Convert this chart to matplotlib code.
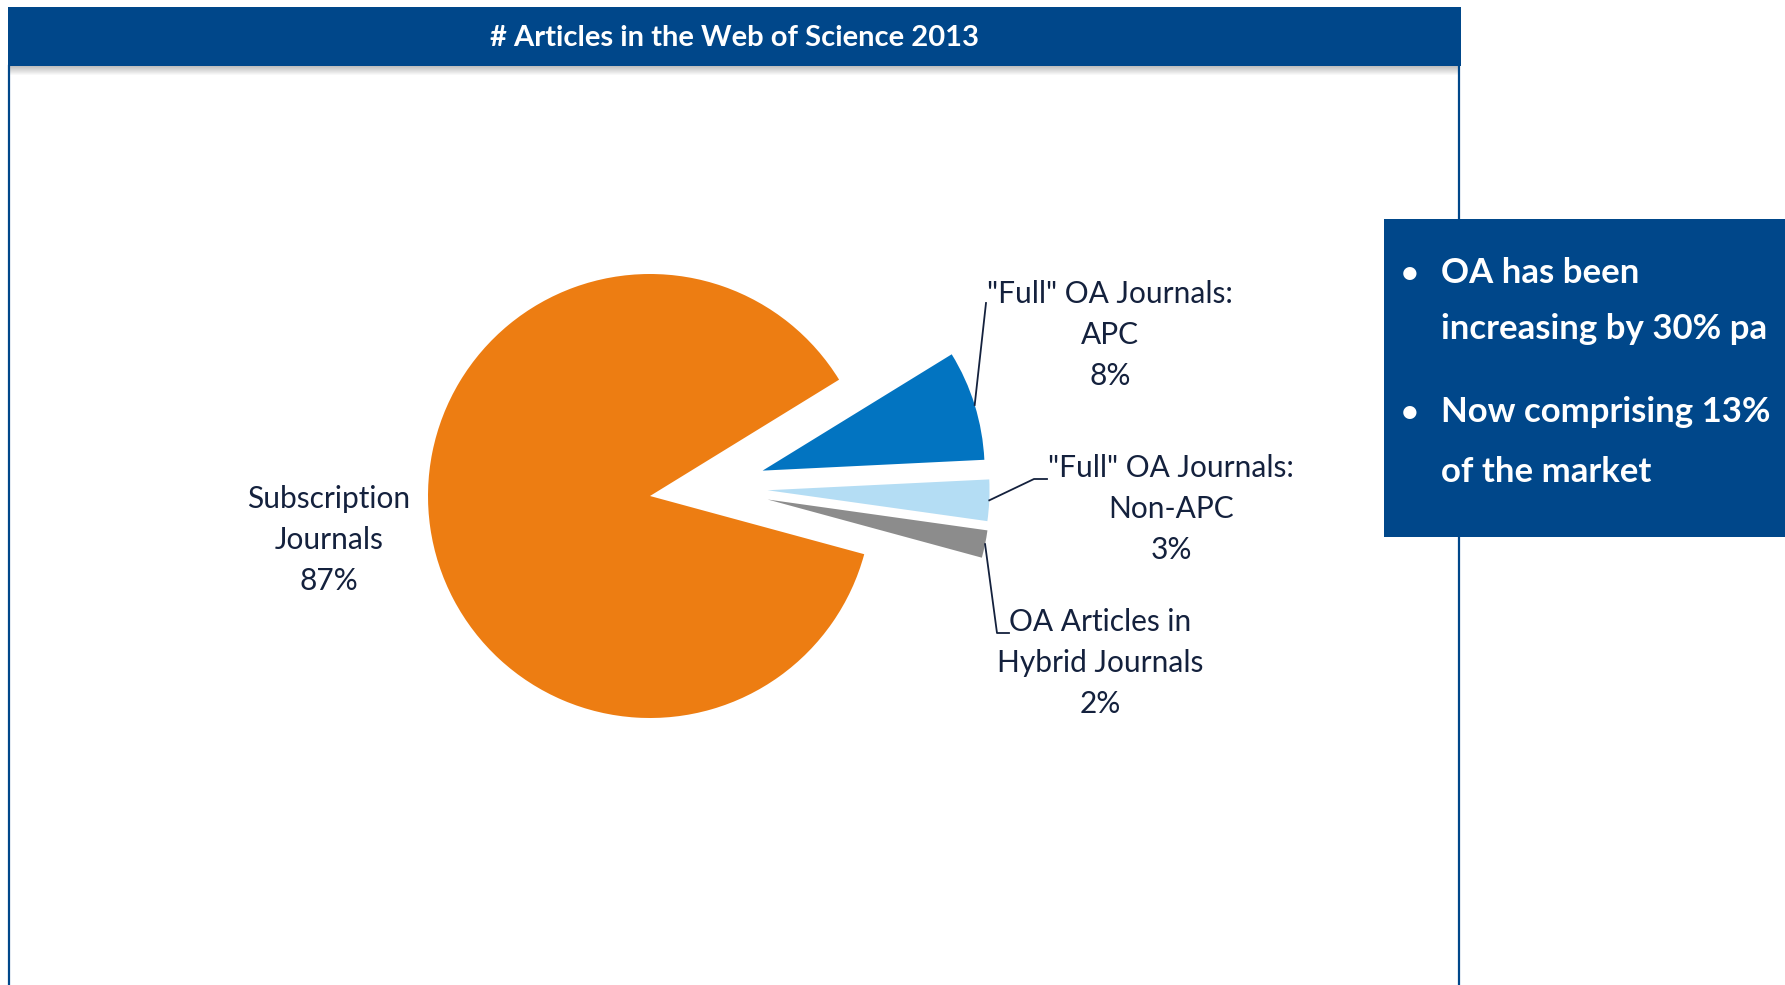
import matplotlib
matplotlib.use('Agg')
import matplotlib.pyplot as plt
from matplotlib.patches import Rectangle
import numpy as np

plt.rcParams['font.family'] = ['Lato', 'DejaVu Sans']

# slices, counter-clockwise from the start angle
labels = ['Subscription\nJournals', 'OA Articles in\nHybrid Journals',
          '"Full" OA Journals:\nNon-APC', '"Full" OA Journals:\nAPC']
shares = [87, 2, 3, 8]
colors = ['#ED7D12', '#8C8C8C', '#B4DDF4', '#0274C1']
explode = [0, 0.53, 0.53, 0.52]

title = '# Articles in the Web of Science 2013'
notes = [['OA has been', 'increasing by 30% pa'], ['Now comprising 13%', 'of the market']]

NAVY = '#00478A'
TXT = '#14213D'

W, H = 1785, 985
fig = plt.figure(figsize=(W / 100, H / 100), dpi=100)
ax = fig.add_axes([0, 0, 1, 1])

# pie in pixel units
cx, cy, R = 650, 489, 222
wedges, _ = ax.pie(shares, colors=colors, startangle=31.6, radius=R, center=(cx, cy),
                   wedgeprops=dict(linewidth=0), frame=True)
ax.set_xlim(0, W)
ax.set_ylim(0, H)
ax.set_aspect('auto')
ax.axis('off')

# pull the OA slices out, half way between own bisector and the OA group bisector
oa = wedges[1:]
grp_mid = (oa[0].theta1 + oa[-1].theta2) / 2
for w, d in zip(wedges, explode):
    if d == 0:
        continue
    mid = (w.theta1 + w.theta2) / 2
    a = np.deg2rad((mid + grp_mid) / 2)
    w.set_center((cx + d * R * np.cos(a), cy + d * R * np.sin(a)))


def arc_mid(w):
    a = np.deg2rad((w.theta1 + w.theta2) / 2)
    c = w.center
    return c[0] + w.r * np.cos(a), c[1] + w.r * np.sin(a)


lab_pos = [(329, 445), (1100, 322), (1171, 476), (1110, 650)]
for lab, s, p in zip(labels, shares, lab_pos):
    ax.text(p[0], p[1], f'{lab}\n{s}%', ha='center', va='center', ma='center',
            fontsize=21.5, color=TXT, linespacing=1.55)

# leader lines
leads = {3: [(986, 682)], 2: [(1034, 506), (1047, 506)], 1: [(997, 352), (1009, 352)]}
for i, pts in leads.items():
    x0, y0 = arc_mid(wedges[i])
    xs = [x0] + [q[0] for q in pts]
    ys = [y0] + [q[1] for q in pts]
    ax.plot(xs, ys, color=TXT, lw=1.3)

# frame + title bar
ax.plot([9, 9], [0, H - 66], color=NAVY, lw=1.6)
ax.plot([1459, 1459], [0, H - 66], color=NAVY, lw=1.6)
for k in range(9):
    ax.add_patch(Rectangle((9, H - 67 - k), 1450, 1, facecolor='#808080',
                           alpha=0.5 * (1 - k / 9), lw=0))
ax.add_patch(Rectangle((8, H - 66), 1453, 59, facecolor=NAVY, lw=0))
ax.text(734, H - 38, title, ha='center', va='center', color='white',
        fontsize=21, fontweight='bold')

# side box
ax.add_patch(Rectangle((1384, H - 537), W - 1384, 318, facecolor=NAVY, lw=0, zorder=5))
base = [[H - 283, H - 339], [H - 422, H - 482]]
for lines, ys in zip(notes, base):
    ax.text(1410, ys[0], '\u2022', ha='center', va='baseline', color='white',
            fontsize=22, fontweight='bold', zorder=6)
    for t, y in zip(lines, ys):
        ax.text(1441, y, t, ha='left', va='baseline', color='white',
                fontsize=25, fontweight='bold', zorder=6)

fig.savefig('out.png', dpi=100, facecolor='white')
